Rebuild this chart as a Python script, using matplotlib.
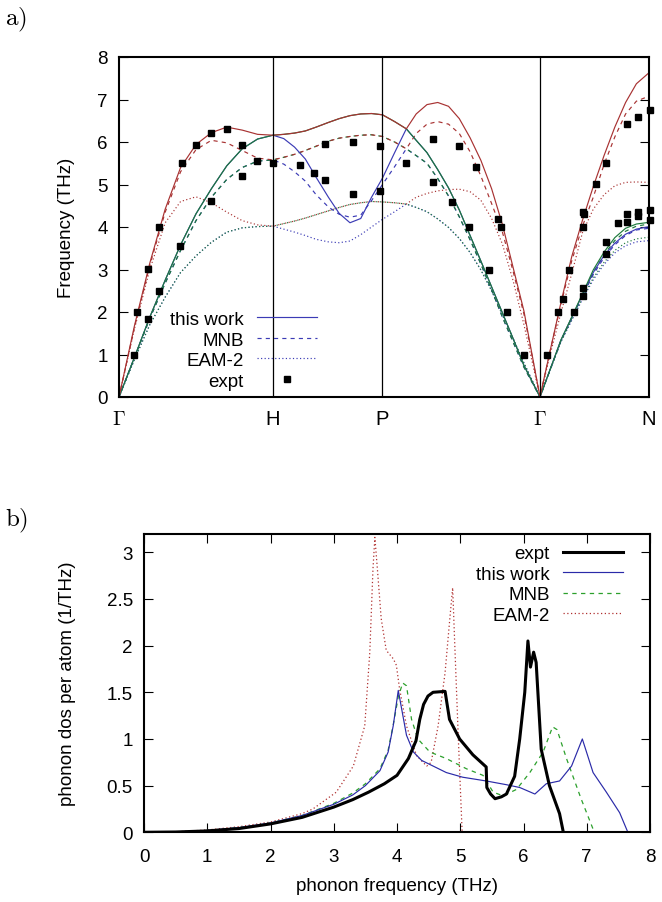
import matplotlib
matplotlib.use("Agg")
import matplotlib.pyplot as plt
from matplotlib.lines import Line2D
import numpy as np

plt.rcParams['font.family'] = ['Liberation Sans', 'DejaVu Sans']
plt.rcParams['mathtext.fontset'] = 'cm'

# ---------------- panel a) : dispersion ----------------
sym_labels = [r'$\Gamma$', 'H', 'P', r'$\Gamma$', 'N']
sym_pos = [0.0, 1.0, 1.711, 2.734, 3.442]

k_path = [0, 0.1, 0.2, 0.3, 0.4, 0.5, 0.6, 0.7, 0.8, 0.9, 1.0,
          1.07, 1.14, 1.21, 1.28, 1.36, 1.43, 1.50, 1.57, 1.64, 1.711,
          1.79, 1.866, 1.93, 2.0, 2.07, 2.14, 2.21, 2.28, 2.35, 2.42, 2.49, 2.56, 2.63, 2.734,
          2.80, 2.87, 2.94, 3.01, 3.08, 3.15, 3.22, 3.29, 3.36, 3.442]

# this work (solid)
L_this = [0, 1.67, 3.15, 4.42, 5.4, 5.94, 6.22, 6.35, 6.28, 6.18, 6.16,
          6.18, 6.21, 6.26, 6.35, 6.46, 6.55, 6.62, 6.66, 6.67, 6.64,
          6.48, 6.31, 6.66, 6.88, 6.93, 6.84, 6.55, 6.1, 5.57, 4.9, 4.06, 3.04, 2.02, 0,
          1.09, 2.22, 3.3, 4.16, 4.95, 5.68, 6.35, 6.93, 7.37, 7.63]
T1_this = [0, 0.93, 1.88, 2.75, 3.58, 4.31, 4.9, 5.44, 5.84, 6.07, 6.16,
           6.18, 6.21, 6.26, 6.35, 6.46, 6.55, 6.62, 6.66, 6.67, 6.64,
           6.48, 6.31, 6.04, 5.75, 5.35, 4.92, 4.4, 3.8, 3.2, 2.59, 1.98, 1.37, 0.74, 0,
           0.65, 1.34, 1.88, 2.43, 2.99, 3.41, 3.75, 3.97, 4.07, 4.11]
T2_this = [0, 0.93, 1.88, 2.75, 3.58, 4.31, 4.9, 5.44, 5.84, 6.07, 6.16,
           6.08, 5.88, 5.6, 5.17, 4.7, 4.32, 4.1, 4.2, 4.7, 5.15,
           5.75, 6.31, 6.04, 5.75, 5.35, 4.92, 4.4, 3.8, 3.2, 2.59, 1.98, 1.37, 0.74, 0,
           0.65, 1.34, 1.87, 2.41, 2.93, 3.33, 3.62, 3.83, 3.95, 4.01]

# MNB (dashed)
L_mnb = [0, 1.63, 3.1, 4.35, 5.3, 5.82, 6.04, 5.98, 5.8, 5.62, 5.58,
         5.64, 5.71, 5.8, 5.9, 6.02, 6.09, 6.13, 6.16, 6.17, 6.13,
         6.0, 5.84, 6.2, 6.42, 6.48, 6.42, 6.2, 5.77, 5.2, 4.55, 3.88, 2.95, 1.95, 0,
         1.08, 2.18, 3.2, 4.02, 4.7, 5.47, 6.12, 6.66, 6.96, 7.08]
T1_mnb = [0, 0.92, 1.85, 2.68, 3.45, 4.15, 4.7, 5.12, 5.4, 5.55, 5.58,
          5.64, 5.71, 5.8, 5.9, 6.02, 6.09, 6.13, 6.16, 6.17, 6.13,
          6.0, 5.84, 5.68, 5.5, 5.14, 4.73, 4.24, 3.7, 3.13, 2.52, 1.88, 1.29, 0.7, 0,
          0.64, 1.32, 1.86, 2.4, 2.93, 3.35, 3.68, 3.9, 4.02, 4.07]
T2_mnb = [0, 0.92, 1.85, 2.68, 3.45, 4.15, 4.7, 5.12, 5.4, 5.55, 5.58,
          5.48, 5.3, 5.08, 4.76, 4.47, 4.3, 4.23, 4.28, 4.62, 5.0,
          5.42, 5.84, 5.68, 5.5, 5.14, 4.73, 4.24, 3.7, 3.13, 2.52, 1.88, 1.29, 0.7, 0,
          0.64, 1.32, 1.85, 2.38, 2.88, 3.28, 3.58, 3.8, 3.93, 3.97]

# EAM-2 (dotted)
L_eam = [0, 1.6, 3.0, 4.1, 4.6, 4.71, 4.57, 4.35, 4.15, 4.05, 4.02,
         4.08, 4.14, 4.21, 4.29, 4.38, 4.46, 4.53, 4.57, 4.6, 4.59,
         4.57, 4.54, 4.7, 4.79, 4.85, 4.88, 4.89, 4.83, 4.63, 4.2, 3.6, 2.73, 1.7, 0,
         1.0, 1.98, 2.9, 3.87, 4.42, 4.76, 4.97, 5.05, 5.06, 5.05]
T1_eam = [0, 0.88, 1.7, 2.35, 2.93, 3.32, 3.64, 3.88, 3.98, 4.01, 4.02,
          4.08, 4.14, 4.21, 4.29, 4.38, 4.46, 4.53, 4.57, 4.6, 4.59,
          4.57, 4.54, 4.46, 4.36, 4.19, 3.99, 3.73, 3.4, 2.99, 2.5, 1.93, 1.37, 0.8, 0,
          0.64, 1.3, 1.82, 2.33, 2.8, 3.17, 3.45, 3.63, 3.72, 3.76]
T2_eam = [0, 0.88, 1.7, 2.35, 2.93, 3.32, 3.64, 3.88, 3.98, 4.01, 4.02,
          3.95, 3.88, 3.8, 3.71, 3.65, 3.63, 3.67, 3.82, 4.0, 4.18,
          4.36, 4.54, 4.46, 4.36, 4.19, 3.99, 3.73, 3.4, 2.99, 2.5, 1.93, 1.37, 0.8, 0,
          0.64, 1.3, 1.8, 2.3, 2.76, 3.12, 3.39, 3.56, 3.65, 3.68]

# experimental points
expt_k = [0.099, 0.119, 0.19, 0.19, 0.262, 0.262, 0.398, 0.411, 0.5, 0.597, 0.597,
          0.699, 0.801, 0.801, 0.898, 1.002, 1.173, 1.264, 1.34, 1.34, 1.521, 1.521,
          1.693, 1.693, 1.866, 2.041, 2.041, 2.21, 2.164, 2.32, 2.275, 2.463, 2.483,
          2.405, 2.521, 2.632, 2.777, 2.853, 2.885, 2.924, 2.953, 3.015, 3.022, 3.015,
          3.015, 3.015, 3.1, 3.164, 3.164, 3.164, 3.242, 3.3, 3.3, 3.3, 3.372, 3.372,
          3.372, 3.446, 3.446, 3.446]
expt_f = [0.99, 1.99, 1.84, 3.01, 2.49, 3.99, 3.55, 5.5, 5.94, 6.21, 4.61,
          6.3, 5.94, 5.19, 5.55, 5.51, 5.45, 5.26, 5.95, 5.1, 5.99, 4.77,
          5.9, 4.84, 5.5, 6.06, 5.05, 5.9, 4.6, 5.4, 3.99, 4.2, 3.99,
          3.0, 1.99, 0.99, 0.99, 1.99, 2.3, 3.0, 1.99, 4.35, 4.3, 3.99,
          2.56, 2.37, 5.01, 5.5, 3.64, 3.36, 4.09, 6.42, 4.3, 4.11, 6.6, 4.35,
          4.25, 6.75, 4.39, 4.16]

# ---------------- panel b) : DOS ----------------
dos_expt_x = [0, 0.5, 1.0, 1.5, 2.0, 2.5, 3.0, 3.3, 3.55, 3.8, 4.0, 4.18, 4.3, 4.36, 4.42,
              4.49, 4.57, 4.76, 4.83, 4.99, 5.2, 5.41, 5.42, 5.48, 5.55, 5.65, 5.73, 5.86,
              5.94, 6.02, 6.07, 6.11, 6.16, 6.2, 6.28, 6.41, 6.57, 6.63]
dos_expt_y = [0, 0.003, 0.015, 0.04, 0.09, 0.16, 0.27, 0.35, 0.43, 0.52, 0.61, 0.79, 0.98,
              1.21, 1.37, 1.46, 1.5, 1.51, 1.21, 1.0, 0.83, 0.7, 0.48, 0.41, 0.36, 0.38,
              0.41, 0.6, 1.0, 1.5, 2.05, 1.77, 1.93, 1.82, 0.89, 0.5, 0.2, 0]

dos_this_x = [0, 0.5, 1.0, 1.5, 2.0, 2.5, 3.0, 3.3, 3.5, 3.73, 3.86, 3.94, 4.02, 4.15, 4.26,
              4.39, 4.57, 4.78, 5.04, 5.41, 5.73, 5.94, 6.18, 6.36, 6.57, 6.76, 6.93, 7.1,
              7.31, 7.52, 7.65]
dos_this_y = [0, 0.004, 0.02, 0.05, 0.1, 0.18, 0.3, 0.4, 0.5, 0.66, 0.86, 1.14, 1.52, 1.04,
              0.86, 0.77, 0.71, 0.64, 0.59, 0.55, 0.51, 0.48, 0.41, 0.52, 0.55, 0.71, 1.0,
              0.64, 0.43, 0.21, 0]

dos_mnb_x = [0, 0.5, 1.0, 1.5, 2.0, 2.5, 3.0, 3.3, 3.5, 3.73, 3.86, 3.94, 4.02, 4.09, 4.15,
             4.23, 4.33, 4.52, 4.78, 5.1, 5.36, 5.52, 5.68, 5.89, 6.1, 6.31, 6.46, 6.53,
             6.68, 6.91, 7.12]
dos_mnb_y = [0, 0.004, 0.02, 0.05, 0.1, 0.18, 0.31, 0.42, 0.52, 0.68, 0.88, 1.15, 1.45, 1.6,
             1.57, 1.21, 1.0, 0.86, 0.79, 0.68, 0.61, 0.43, 0.39, 0.46, 0.64, 0.86, 1.13,
             1.1, 0.79, 0.36, 0]

dos_eam_x = [0, 0.5, 1.0, 1.5, 2.0, 2.5, 2.67, 3.04, 3.31, 3.49, 3.57, 3.62, 3.65, 3.69,
             3.75, 3.83, 3.94, 3.99, 4.04, 4.15, 4.31, 4.47, 4.54, 4.65, 4.76, 4.83, 4.88,
             4.91, 4.97, 5.03]
dos_eam_y = [0, 0.005, 0.025, 0.06, 0.11, 0.2, 0.25, 0.43, 0.71, 1.14, 1.93, 2.82, 3.16,
             2.82, 2.29, 1.95, 1.86, 1.79, 1.54, 1.14, 0.82, 0.71, 0.75, 1.14, 1.71, 2.25,
             2.62, 2.07, 1.0, 0]

RED = '#a83232'
GREEN = '#1d7a3c'
BLUE = '#3b3bb5'
DASH = (3.5, 3.5)
DOT = (1.0, 2.0)
FS = 13.5

fig = plt.figure(figsize=(6.62, 9.03), dpi=100)
W, H = 662.0, 903.0
ax1 = fig.add_axes([119 / W, 1 - 398 / H, (649 - 119) / W, (398 - 58) / H])
ax2 = fig.add_axes([144 / W, 1 - 833.3 / H, (650 - 144) / W, (833.3 - 535) / H])

lw = 0.85
for data, col in [(T2_eam, BLUE), (T1_eam, GREEN), (L_eam, RED)]:
    ax1.plot(k_path, data, color=col, lw=lw, dashes=DOT)
for data, col in [(T2_mnb, BLUE), (T1_mnb, GREEN), (L_mnb, RED)]:
    ax1.plot(k_path, data, color=col, lw=lw, dashes=DASH)
for data, col in [(T2_this, BLUE), (T1_this, GREEN), (L_this, RED)]:
    ax1.plot(k_path, data, color=col, lw=lw, ls='-')
ax1.plot(expt_k, expt_f, ls='none', marker='s', ms=4.6, color='black', clip_on=False)

for p in sym_pos[1:-1]:
    ax1.axvline(p, color='black', lw=0.9)

ax1.set_xlim(sym_pos[0], sym_pos[-1])
ax1.set_ylim(0, 8)
ax1.set_xticks(sym_pos)
ax1.set_xticklabels(sym_labels)
ax1.tick_params(axis='x', length=0, pad=9, labelsize=FS + 1)
ax1.set_yticks(range(0, 9))
ax1.tick_params(axis='y', direction='in', length=6.5, width=0.8, right=True,
                labelsize=FS, pad=8)
ax1.set_ylabel('Frequency (THz)', fontsize=FS, labelpad=16)
for s in ax1.spines.values():
    s.set_linewidth(1.5)

h1 = [Line2D([], [], color=BLUE, lw=lw, ls='-'),
      Line2D([], [], color=BLUE, lw=lw, dashes=DASH),
      Line2D([], [], color=BLUE, lw=lw, dashes=DOT),
      Line2D([], [], ls='none', marker='s', ms=4.6, color='black')]
ax1.legend(h1, ['this work', 'MNB', 'EAM-2', 'expt'], loc='lower right',
           bbox_to_anchor=((317 - 119) / 530, 0.022), frameon=False, fontsize=FS,
           markerfirst=False, handlelength=3.2, handletextpad=0.7,
           labelspacing=0.18, borderpad=0, borderaxespad=0)

# DOS
ax2.plot(dos_eam_x, dos_eam_y, color='#b03030', lw=0.9, dashes=DOT, label='EAM-2')
ax2.plot(dos_mnb_x, dos_mnb_y, color='#2ca02c', lw=0.9, dashes=DASH, label='MNB')
ax2.plot(dos_this_x, dos_this_y, color='#2a2aa8', lw=0.85, label='this work')
ax2.plot(dos_expt_x, dos_expt_y, color='black', lw=2.2, label='expt')
ax2.set_xlim(0, 8)
ax2.set_ylim(0, 3.196)
ax2.set_xticks(range(0, 9))
ax2.set_yticks([0, 0.5, 1, 1.5, 2, 2.5, 3])
ax2.set_yticklabels(['0', '0.5', '1', '1.5', '2', '2.5', '3'])
ax2.tick_params(direction='in', length=6.5, width=0.8, top=True, right=True, labelsize=FS)
ax2.tick_params(axis='x', pad=11)
ax2.tick_params(axis='y', pad=8)
ax2.set_xlabel('phonon frequency (THz)', fontsize=FS, labelpad=9)
ax2.set_ylabel('phonon dos per atom (1/THz)', fontsize=FS, labelpad=22)
for s in ax2.spines.values():
    s.set_linewidth(1.5)
hh, ll = ax2.get_legend_handles_labels()
ax2.legend(hh[::-1], ll[::-1], loc='upper right',
           bbox_to_anchor=((623 - 144) / 506, 0.962), frameon=False, fontsize=FS,
           markerfirst=False, handlelength=3.2, handletextpad=0.7,
           labelspacing=0.18, borderpad=0, borderaxespad=0)

fig.text(5 / W, 1 - 20 / H, r'$\mathrm{a)}$', fontsize=18, va='center', ha='left')
fig.text(5 / W, 1 - 521 / H, r'$\mathrm{b)}$', fontsize=18, va='center', ha='left')

fig.savefig('out.png', dpi=100)
